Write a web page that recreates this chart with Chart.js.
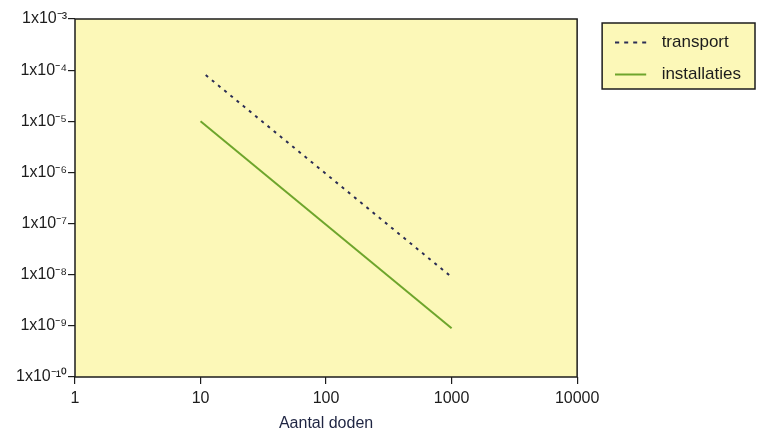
<!DOCTYPE html>
<html>
<head>
<meta charset="utf-8">
<script src="https://cdn.jsdelivr.net/npm/chart.js@4"></script>
<style>
  html, body { margin: 0; padding: 0; background: #fff; }
  #wrap { width: 757px; height: 433px; }
</style>
</head>
<body>
<div id="wrap"><canvas id="riskChart"></canvas></div>
<script>
// data
const seriesNames = ['transport', 'installaties'];
const transportX = [11, 1000];
const transportY = [8e-5, 9e-9];
const installatiesX = [10, 1000];
const installatiesY = [1e-5, 9e-10];
const xTicks = [1, 10, 100, 1000, 10000];
const yTicks = [1e-10, 1e-9, 1e-8, 1e-7, 1e-6, 1e-5, 1e-4, 1e-3];
const xTitle = 'Aantal doden';

const sup = {'-': '\u207B', '0': '\u2070', '1': '\u00B9', '2': '\u00B2', '3': '\u00B3', '4': '\u2074',
  '5': '\u2075', '6': '\u2076', '7': '\u2077', '8': '\u2078', '9': '\u2079'};
function expLabel(v) {
  const e = String(Math.round(Math.log10(v)));
  return '1x10' + e.split('').map(c => sup[c]).join('');
}

function toPoints(xs, ys) {
  return xs.map((x, i) => ({x: x, y: ys[i]}));
}

const ink = '#1c1c1c';
const fontFam = 'Arial, "Liberation Sans", Helvetica, sans-serif';
const navy = '#2b2d55';
const green = '#6ea52c';

// little legend samples: line 31px long inside a 38px wide image
function sample(color, dash) {
  const c = document.createElement('canvas');
  c.width = 38; c.height = 4;
  const g = c.getContext('2d');
  g.strokeStyle = color;
  g.lineWidth = 2;
  g.setLineDash(dash);
  g.beginPath();
  g.moveTo(0, 2);
  g.lineTo(31, 2);
  g.stroke();
  return c;
}
const samples = [sample(navy, [4, 5]), sample(green, [])];

// yellow plot background + frame, and a box round the legend
const framePlugin = {
  id: 'frame',
  afterUpdate(chart) {
    const lg = chart.legend;
    const shift = chart.chartArea.right + 23 - lg.left;
    lg.left += shift;
    lg.right = chart.width - 3;
    lg.width = lg.right - lg.left;
    lg.legendHitBoxes.forEach(b => { b.left += shift; });
  },
  beforeDraw(chart) {
    const {ctx, chartArea: a} = chart;
    ctx.save();
    ctx.fillStyle = '#fcf8b8';
    ctx.fillRect(a.left, a.top, a.right - a.left, a.bottom - a.top);
    const boxes = chart.legend.legendHitBoxes;
    if (boxes && boxes.length) {
      const l = Math.min(...boxes.map(b => b.left)) - 13;
      const t = Math.min(...boxes.map(b => b.top)) - 11;
      const b = Math.max(...boxes.map(b => b.top + b.height)) + 6;
      const r = chart.width - 2;
      ctx.fillRect(l, t, r - l, b - t);
      ctx.strokeStyle = ink;
      ctx.lineWidth = 1.5;
      ctx.strokeRect(l, t, r - l, b - t);
    }
    ctx.restore();
  },
  afterDatasetsDraw(chart) {
    const {ctx, chartArea: a} = chart;
    ctx.save();
    ctx.strokeStyle = ink;
    ctx.lineWidth = 1.5;
    ctx.strokeRect(a.left, a.top, a.right - a.left, a.bottom - a.top);
    ctx.restore();
  }
};

const ctx = document.getElementById('riskChart').getContext('2d');
const riskChart = new Chart(ctx, {
  type: 'line',
  data: {
    datasets: [{
      label: seriesNames[0],
      data: toPoints(transportX, transportY),
      borderColor: navy,
      backgroundColor: navy,
      borderWidth: 2,
      borderDash: [3, 5],
      pointRadius: 0,
      fill: false
    }, {
      label: seriesNames[1],
      data: toPoints(installatiesX, installatiesY),
      borderColor: green,
      backgroundColor: green,
      borderWidth: 2,
      pointRadius: 0,
      fill: false
    }]
  },
  plugins: [framePlugin],
  options: {
    responsive: true,
    maintainAspectRatio: false,
    animation: false,
    layout: { padding: { top: 19, right: 29, bottom: 0, left: 0 } },
    plugins: {
      tooltip: { enabled: false },
      legend: {
        position: 'right',
        align: 'start',
        labels: {
          usePointStyle: true,
          pointStyleWidth: 38,
          boxHeight: 17,
          padding: 15,
          color: ink,
          font: { family: fontFam, size: 17 },
          generateLabels: chart => {
            const items = Chart.defaults.plugins.legend.labels.generateLabels(chart);
            items.forEach((it, i) => { it.pointStyle = samples[i]; });
            return items;
          }
        }
      }
    },
    scales: {
      x: {
        type: 'logarithmic',
        min: 1,
        max: 10000,
        afterBuildTicks: s => { s.ticks = xTicks.map(v => ({value: v})); },
        afterFit: s => { s.height = 56; },
        ticks: {
          color: ink,
          font: { family: fontFam, size: 16 },
          padding: 5,
          maxRotation: 0,
          autoSkip: false,
          callback: v => String(v)
        },
        grid: { drawOnChartArea: false, drawTicks: true, tickLength: 7, color: ink, lineWidth: 1.2 },
        border: { display: false },
        title: {
          display: true,
          text: xTitle,
          color: '#1e2442',
          font: { family: fontFam, size: 16 },
          padding: { top: 0, bottom: 0 }
        }
      },
      y: {
        type: 'logarithmic',
        min: 1e-10,
        max: 1e-3,
        afterBuildTicks: s => { s.ticks = yTicks.map(v => ({value: v})); },
        afterFit: s => { s.width = 75; },
        ticks: {
          color: ink,
          font: { family: fontFam, size: 16 },
          padding: 1,
          autoSkip: false,
          callback: v => expLabel(v)
        },
        grid: { drawOnChartArea: false, drawTicks: true, tickLength: 7, color: ink, lineWidth: 1.2 },
        border: { display: false }
      }
    }
  }
});
</script>
</body>
</html>
